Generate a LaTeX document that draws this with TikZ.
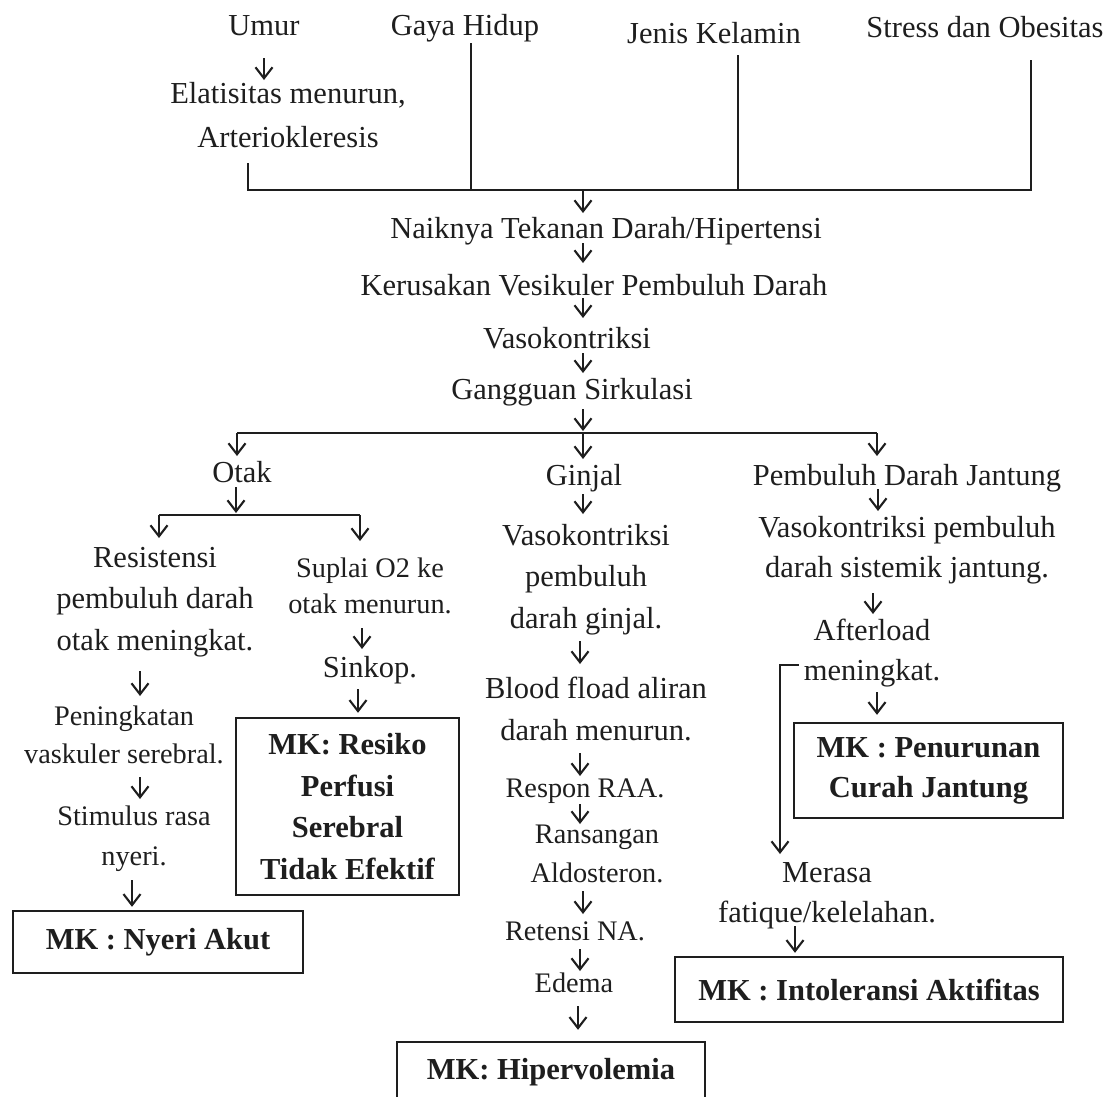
\documentclass[tikz,border=0pt]{standalone}
\usepackage{fontspec}
\setmainfont{Liberation Serif}
\usetikzlibrary{arrows.meta,calc}
\definecolor{ink}{RGB}{30,30,30}
\newcommand\mystrut{\rule[-8pt]{0pt}{30pt}}
\begin{document}
\begin{tikzpicture}[x=1pt,y=-1pt,
  tx/.style={inner sep=0pt, align=center, anchor=north, text=ink},
  fs/.style 2 args={font=\fontsize{#1}{#2}\selectfont},
  ln/.style={draw=ink, line width=2.1pt},
  arr/.style={ln, -{Straight Barb[length=11pt,width=17pt]}},
  box/.style={draw=ink, line width=2.4pt, inner sep=0pt, align=center, text=ink, font=\fontsize{30.5}{#1}\selectfont\bfseries}
]
\fill[white] (0,0) rectangle (1116,1096);
\useasboundingbox (0,0) rectangle (1116,1096);

% ---- text nodes
\node[tx,fs={30.5}{36}] (umur) at (264,13) {\mystrut Umur};
\node[tx,fs={30.5}{36}] (gaya) at (465,13) {\mystrut Gaya Hidup};
\node[tx,fs={30.5}{36}] (jenis) at (714,21) {\mystrut Jenis Kelamin};
\node[tx,fs={30.5}{36}] (stress) at (985,15) {\mystrut Stress dan Obesitas};
\node[tx,fs={30.5}{44}] (elat) at (288,81) {\mystrut Elatisitas menurun,\\Arteriokleresis\mystrut};
\node[tx,fs={30.5}{36}] (naik) at (606,216) {\mystrut Naiknya Tekanan Darah/Hipertensi};
\node[tx,fs={30.5}{36}] (kerus) at (594,273) {\mystrut Kerusakan Vesikuler Pembuluh Darah};
\node[tx,fs={30.5}{36}] (vaso) at (567,326) {\mystrut Vasokontriksi};
\node[tx,fs={30.5}{36}] (gang) at (572,377) {\mystrut Gangguan Sirkulasi};
\node[tx,fs={30.5}{36}] (otak) at (242,460) {\mystrut Otak};
\node[tx,fs={30.5}{36}] (ginjal) at (584,463) {\mystrut Ginjal};
\node[tx,fs={30.5}{36}] (pdj) at (907,463) {\mystrut Pembuluh Darah Jantung};
\node[tx,fs={30.5}{41.5}] (resis) at (155,545) {\mystrut Resistensi\\pembuluh darah\\otak meningkat.\mystrut};
\node[tx,fs={28.3}{36}] (suplai) at (370,555) {\mystrut Suplai O2 ke\\otak menurun.\mystrut};
\node[tx,fs={30.5}{36}] (sinkop) at (370,655) {\mystrut Sinkop.};
\node[tx,fs={28.3}{38}] (pening) at (124,703) {\mystrut Peningkatan\\vaskuler serebral.\mystrut};
\node[tx,fs={28.3}{40}] (stim) at (134,803) {\mystrut Stimulus rasa\\nyeri.\mystrut};
\node[tx,fs={30.5}{41.5}] (vasog) at (586,523) {\mystrut Vasokontriksi\\pembuluh\\darah ginjal.\mystrut};
\node[tx,fs={30.5}{42}] (blood) at (596,676) {\mystrut Blood fload aliran\\darah menurun.\mystrut};
\node[tx,fs={28.3}{36}] (respon) at (585,775) {\mystrut Respon RAA.};
\node[tx,fs={28.3}{39}] (rans) at (597,821) {\mystrut Ransangan\\Aldosteron.\mystrut};
\node[tx,fs={28.3}{36}] (reten) at (575,918) {\mystrut Retensi NA.};
\node[tx,fs={28.3}{36}] (edema) at (574,970) {\mystrut Edema};
\node[tx,fs={30.5}{40}] (vasoj) at (907,515) {\mystrut Vasokontriksi pembuluh\\darah sistemik jantung.\mystrut};
\node[tx,fs={30.5}{40}] (after) at (872,618) {\mystrut Afterload\\meningkat.\mystrut};
\node[tx,fs={30.5}{40}] (merasa) at (827,860) {\mystrut Merasa\\fatique/kelelahan.\mystrut};

% ---- boxes
\node[box=41.5, minimum width=223pt, minimum height=177pt] (bres) at (347.5,806.5) {MK: Resiko\\Perfusi\\Serebral\\Tidak Efektif};
\node[box=36, minimum width=290pt, minimum height=62pt] (bnyeri) at (158,942) {MK : Nyeri Akut};
\node[box=40, minimum width=269pt, minimum height=95pt] (bpen) at (928.5,770.5) {MK : Penurunan\\Curah Jantung};
\node[box=36, minimum width=388pt, minimum height=65pt] (bint) at (869,989.5) {MK : Intoleransi Aktifitas};
\node[box=36, minimum width=308pt, minimum height=60pt] (bhip) at (551,1072) {MK: Hipervolemia};

% ---- junction coordinates
\coordinate (jE) at (248,190);
\coordinate (jG) at (471,190);
\coordinate (jJ) at (738,190);
\coordinate (jS) at (1031,190);
\coordinate (jN) at (583,190);
\coordinate (jM) at (583,433);
\coordinate (jO) at (237,433);
\coordinate (jP) at (877,433);
\coordinate (jQ) at (236,515);
\coordinate (jR) at (159,515);
\coordinate (jT) at (360,515);

% ---- top bracket
\draw[ln] ($(jE |- elat.south)+(0,8)$) -- (jE) -- (jS) -- ($(jS |- stress.south)+(0,15)$);
\draw[ln] (jG) -- (jG |- gaya.south);
\draw[ln] (jJ) -- ($(jJ |- jenis.south)+(0,4)$);

% ---- main chain
\draw[arr] ($(umur.south)+(0,15)$) -- ($(elat.north)+(-24,-1)$);
\draw[arr] (jN) -- ($(naik.north)+(-23,-3)$);
\draw[arr] ($(naik.south)+(-23,-3)$) -- ($(kerus.north)+(-11,-10)$);
\draw[arr] ($(kerus.south)+(-11,-5)$) -- ($(vaso.north)+(16,-8)$);
\draw[arr] ($(vaso.south)+(16,-3)$) -- ($(gang.north)+(11,-4)$);
\draw[arr, shorten >=2pt] ($(gang.south)+(11,2)$) -- (jM);
\draw[ln] (jO) -- (jP);
\draw[arr] (jO) -- ($(otak.north)+(-5,-4)$);
\draw[arr] (jM) -- ($(ginjal.north)+(-1,-4)$);
\draw[arr] (jP) -- ($(pdj.north)+(-30,-7)$);

% ---- Otak branch
\draw[arr, shorten >=2pt] ($(otak.south)+(-6,-3)$) -- (jQ);
\draw[ln] (jR) -- (jT);
\draw[arr] (jR) -- ($(resis.north)+(4,-7)$);
\draw[arr] (jT) -- ($(suplai.north)+(-10,-14)$);
\draw[arr] ($(resis.south)+(-15,13)$) -- ($(pening.north)+(16,-7)$);
\draw[arr] ($(pening.south)+(16,6)$) -- ($(stim.north)+(6,-4)$);
\draw[arr] ($(stim.south)+(-2,7)$) -- ($(bnyeri.north)+(-26,-3)$);
\draw[arr] ($(suplai.south)+(-8,7)$) -- ($(sinkop.north)+(-8,-6)$);
\draw[arr] ($(sinkop.south)+(-12,4)$) -- ($(bres.north)+(10.5,-4)$);

% ---- Ginjal branch
\draw[arr] ($(ginjal.south)+(-1,1)$) -- ($(vasog.north)+(-3,-9)$);
\draw[arr] ($(vasog.south)+(-6,5)$) -- ($(blood.north)+(-16,-12)$);
\draw[arr] ($(blood.south)+(-16,5)$) -- ($(respon.north)+(-5,1)$);
\draw[arr] ($(respon.south)+(-5,-1)$) -- ($(rans.north)+(-17,3)$);
\draw[arr] ($(rans.south)+(-14,1)$) -- ($(reten.north)+(8,-4)$);
\draw[arr] ($(reten.south)+(5,1)$) -- ($(edema.north)+(6,1)$);
\draw[arr] ($(edema.south)+(4,6)$) -- ($(bhip.north)+(27,-11)$);

% ---- Jantung branch
\draw[arr] ($(pdj.south)+(-29,-4)$) -- ($(vasoj.north)+(-29,-4)$);
\draw[arr] ($(vasoj.south)+(-34,8)$) -- ($(after.north)+(1,-4)$);
\draw[arr] ($(after.south)+(5,4)$) -- ($(bpen.north)+(-51.5,-7)$);
\draw[arr] ($(after.south west)+(-5,-23)$) -| ($(merasa.north)+(-47,-6)$);
\draw[arr] ($(merasa.south)+(-32,-4)$) -- ($(bint.north)+(-74,-3)$);
\end{tikzpicture}
\end{document}
